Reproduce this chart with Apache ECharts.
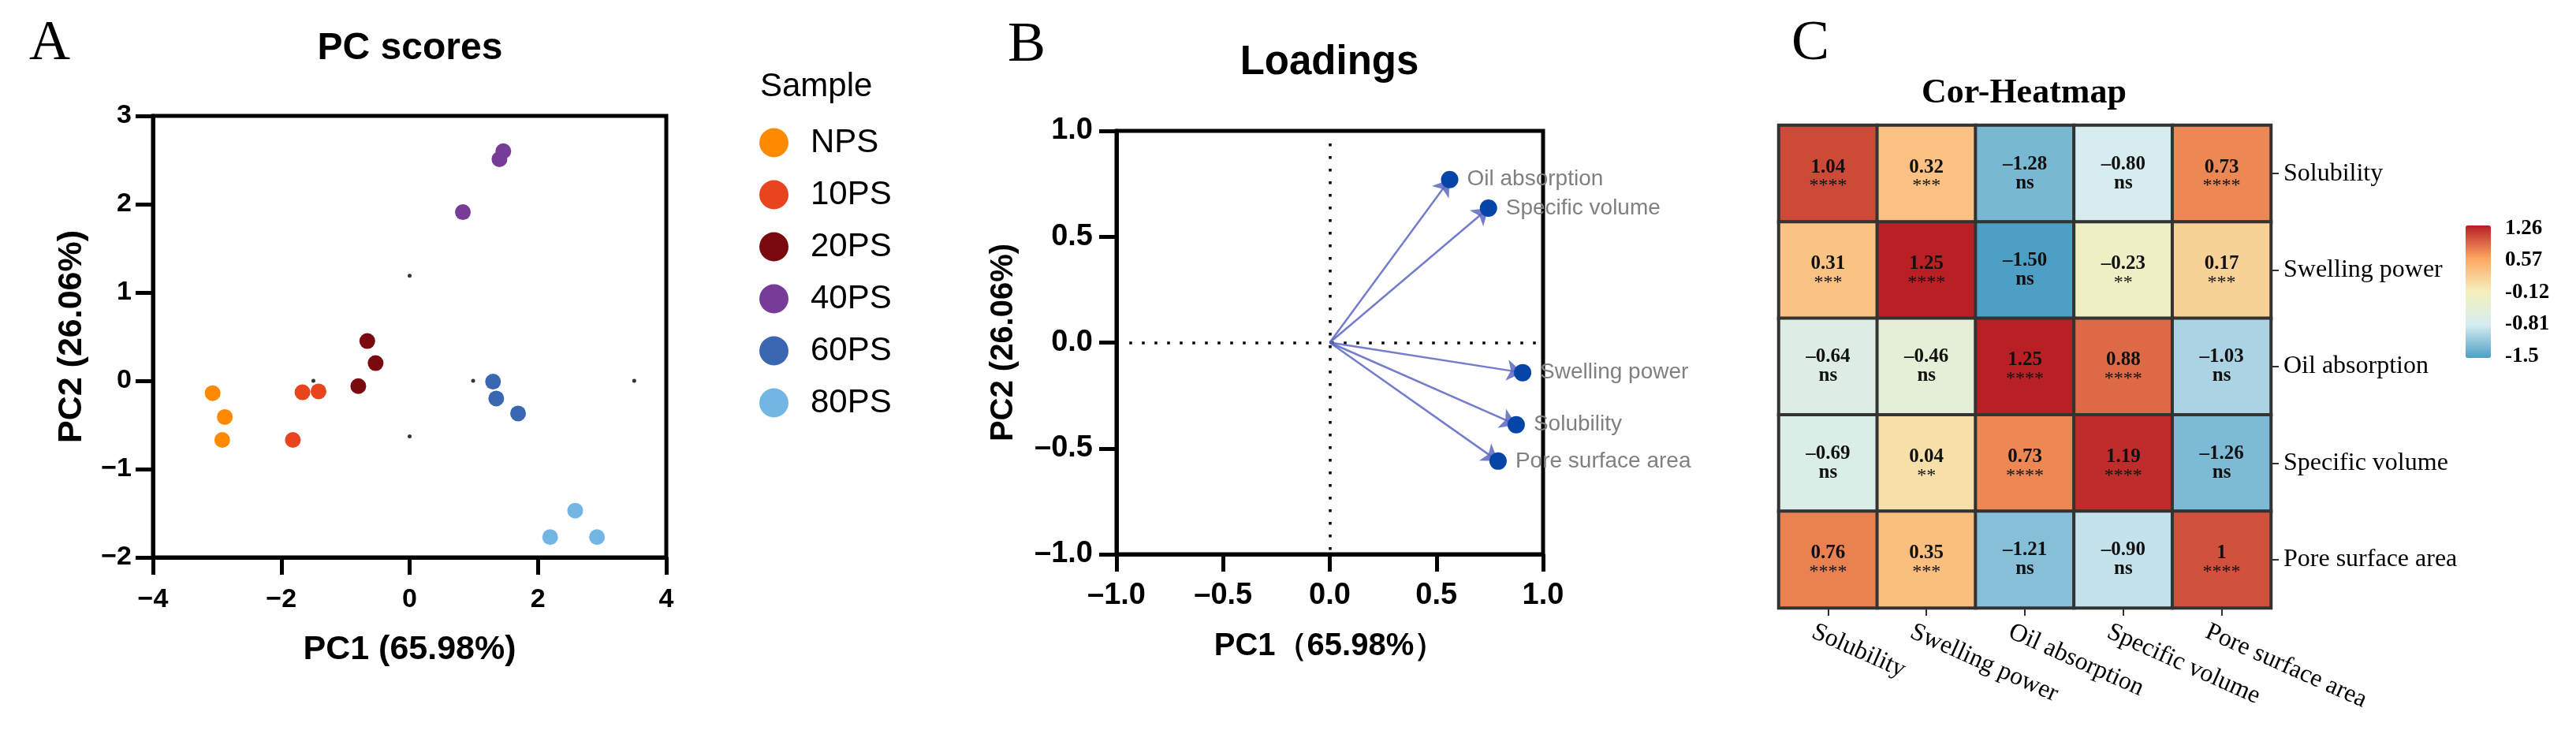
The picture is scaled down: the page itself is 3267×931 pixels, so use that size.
<!DOCTYPE html>
<html><head><meta charset="utf-8">
<script src="https://cdn.jsdelivr.net/npm/echarts@6/dist/echarts.min.js"></script>
<style>html,body{margin:0;padding:0;background:#fff}#c{width:3267px;height:931px}</style>
</head><body><div id="c"></div>
<script>
// ---------- Panel A: PC scores ----------
const sampleNames = ['NPS', '10PS', '20PS', '40PS', '60PS', '80PS'];
const scoresNPS  = [[-3.07, -0.14], [-2.88, -0.41], [-2.92, -0.67]];
const scores10PS = [[-1.67, -0.13], [-1.42, -0.12], [-1.82, -0.67]];
const scores20PS = [[-0.66, 0.45], [-0.53, 0.20], [-0.80, -0.06]];
const scores40PS = [[1.46, 2.60], [1.40, 2.51], [0.83, 1.91]];
const scores60PS = [[1.30, -0.01], [1.35, -0.20], [1.69, -0.37]];
const scores80PS = [[2.58, -1.47], [2.19, -1.77], [2.92, -1.77]];
const centerDots = [[0, 1.19], [0, -0.63], [-1.50, 0], [0.99, 0], [3.50, 0]];

// ---------- Panel B: Loadings ----------
const loadingNames = ['Oil absorption', 'Specific volume', 'Swelling power', 'Solubility', 'Pore surface area'];
const loadPC1 = [0.562, 0.744, 0.904, 0.874, 0.789];
const loadPC2 = [0.770, 0.635, -0.142, -0.388, -0.560];
const refLineH = [[-0.94, 0], [1, 0]];
const refLineV = [[0, 0.94], [0, -1]];

// ---------- Panel C: Cor-Heatmap ----------
const traits = ['Solubility', 'Swelling power', 'Oil absorption', 'Specific volume', 'Pore surface area'];
const corRows = [
  [1.04, 0.32, -1.28, -0.80, 0.73],
  [0.31, 1.25, -1.50, -0.23, 0.17],
  [-0.64, -0.46, 1.25, 0.88, -1.03],
  [-0.69, 0.04, 0.73, 1.19, -1.26],
  [0.76, 0.35, -1.21, -0.90, 1]
];
const sigRows = [
  ['****', '***', 'ns', 'ns', '****'],
  ['***', '****', 'ns', '**', '***'],
  ['ns', 'ns', '****', '****', 'ns'],
  ['ns', '**', '****', '****', 'ns'],
  ['****', '***', 'ns', 'ns', '****']
];
const cbTicks = [-1.5, -0.81, -0.12, 0.57, 1.26];

// ---------- styles ----------
const sampleColors = ['#FF8A00', '#E8441E', '#7A0A10', '#773C98', '#3A67B1', '#73B6E3'];
const SANS = 'Liberation Sans, Arial, sans-serif';
const SERIF = 'Liberation Serif, Times New Roman, serif';
const scoreGroups = [scoresNPS, scores10PS, scores20PS, scores40PS, scores60PS, scores80PS];

const heatData = [];
corRows.forEach((row, yi) => row.forEach((v, xi) => heatData.push([xi, yi, v])));
const fmtCell = v => (Number.isInteger(v) ? String(v) : v.toFixed(2)).replace('-', '\u2013');

function frameAxis(gridIndex, min, max, interval, fs, margin, name, nameGap, nameSize, fmt) {
  return {
    gridIndex, type: 'value', min, max, interval,
    name, nameLocation: 'middle', nameGap,
    nameTextStyle: { fontFamily: SANS, fontSize: nameSize, fontWeight: 'bold', color: '#000' },
    axisLine: { show: true, onZero: false, lineStyle: { color: '#000', width: 5 } },
    axisTick: { show: true, length: 22, lineStyle: { color: '#000', width: 5 } },
    splitLine: { show: false },
    axisLabel: { margin, fontFamily: SANS, fontSize: fs, fontWeight: 'bold', color: '#000',
      showMinLabel: true, showMaxLabel: true, formatter: fmt }
  };
}

const series = [];
scoreGroups.forEach((g, i) => series.push({
  name: sampleNames[i], type: 'scatter', xAxisIndex: 0, yAxisIndex: 0,
  data: g, symbolSize: 20, itemStyle: { color: sampleColors[i], opacity: 1 }, z: 3
}));
series.push({ name: 'centers', type: 'scatter', xAxisIndex: 0, yAxisIndex: 0,
  data: centerDots, symbolSize: 5, itemStyle: { color: '#000' }, z: 2 });

// Panel B series
series.push({ type: 'lines', coordinateSystem: 'cartesian2d', xAxisIndex: 1, yAxisIndex: 1,
  data: [{ coords: refLineH }, { coords: refLineV }],
  symbol: ['none', 'none'],
  lineStyle: { color: '#000', width: 3.5, type: [3.5, 12.5], opacity: 1 }, z: 2 });
series.push({ type: 'lines', coordinateSystem: 'cartesian2d', xAxisIndex: 1, yAxisIndex: 1,
  data: loadPC1.map((x, i) => ({ coords: [[0, 0], [x, loadPC2[i]]] })),
  symbol: ['none', 'arrow'], symbolSize: [14, 20],
  lineStyle: { color: '#5B66C2', width: 2.5, opacity: 0.85 }, z: 3 });
series.push({ type: 'scatter', xAxisIndex: 1, yAxisIndex: 1,
  data: loadPC1.map((x, i) => [x, loadPC2[i], loadingNames[i]]),
  symbolSize: 22, itemStyle: { color: '#0645A8', opacity: 1 }, z: 4,
  label: { show: true, position: 'right', distance: 11, formatter: p => p.data[2],
    fontFamily: SANS, fontSize: 28, color: '#808080' } });

// Panel C heatmap
const heatIdx = series.length;
series.push({ type: 'heatmap', xAxisIndex: 2, yAxisIndex: 2, data: heatData,
  itemStyle: { borderColor: '#333', borderWidth: 4 },
  emphasis: { disabled: true },
  label: { show: true,
    formatter: p => {
      const s = sigRows[p.data[1]][p.data[0]];
      const v = fmtCell(p.data[2]);
      return s === 'ns' ? `{v|${v}}\n{n|${s}}` : `{vp|${v}}\n{sp|${s}}`;
    },
    rich: {
      v: { fontFamily: SERIF, fontWeight: 'bold', fontSize: 25, color: '#111', lineHeight: 24 },
      n: { fontFamily: SERIF, fontWeight: 'bold', fontSize: 25, color: '#111', lineHeight: 24 },
      vp: { fontFamily: SERIF, fontWeight: 'bold', fontSize: 25, color: '#111', lineHeight: 24, padding: [8, 0, 0, 0] },
      sp: { fontFamily: SERIF, fontWeight: 'normal', fontSize: 24, color: '#111', lineHeight: 24, padding: [8, 0, 0, 0] }
    } } });

const option = {
  animation: false,
  backgroundColor: '#fff',
  graphic: [
    { type: 'text', x: 63, y: 56, style: { text: 'A', font: '72px ' + SERIF, fill: '#000', align: 'center', verticalAlign: 'middle' } },
    { type: 'text', x: 1302, y: 58, style: { text: 'B', font: '72px ' + SERIF, fill: '#000', align: 'center', verticalAlign: 'middle' } },
    { type: 'text', x: 2296, y: 56, style: { text: 'C', font: '72px ' + SERIF, fill: '#000', align: 'center', verticalAlign: 'middle' } },
    { type: 'text', x: 520, y: 62, style: { text: 'PC scores', font: 'bold 48px ' + SANS, fill: '#000', align: 'center', verticalAlign: 'middle' } },
    { type: 'text', x: 1686, y: 80, style: { text: 'Loadings', font: 'bold 51px ' + SANS, fill: '#000', align: 'center', verticalAlign: 'middle' } },
    { type: 'text', x: 2567, y: 119, style: { text: 'Cor-Heatmap', font: 'bold 44px ' + SERIF, fill: '#000', align: 'center', verticalAlign: 'middle' } },
    { type: 'text', x: 964, y: 110, style: { text: 'Sample', font: '42px ' + SANS, fill: '#000', align: 'left', verticalAlign: 'middle' } }
  ],
  legend: {
    data: sampleNames, orient: 'vertical', left: 963, top: 160, padding: 0,
    icon: 'circle', itemWidth: 37, itemHeight: 37, itemGap: 24, selectedMode: false,
    textStyle: { fontFamily: SANS, fontSize: 42, color: '#000', lineHeight: 37, padding: [0, 0, 0, 23] }
  },
  grid: [
    { left: 194, top: 147, width: 651, height: 560, show: true, borderColor: '#000', borderWidth: 5, backgroundColor: 'transparent' },
    { left: 1416, top: 166, width: 541, height: 537, show: true, borderColor: '#000', borderWidth: 5, backgroundColor: 'transparent' },
    { left: 2256, top: 159, width: 624, height: 612, show: true, borderColor: '#333', borderWidth: 3, backgroundColor: 'transparent' },
    { left: 3127, top: 290, width: 32, height: 162, show: false },
    { left: 2237, top: 159, width: 624, height: 612, show: false }
  ],
  xAxis: [
    frameAxis(0, -4, 4, 2, 34, 37, 'PC1 (65.98%)', 96, 43, v => String(v).replace('-', '\u2212')),
    frameAxis(1, -1, 1, 0.5, 38, 34, 'PC1\uFF0865.98%\uFF09', 97, 40, v => v.toFixed(1).replace('-', '\u2013')),
    { gridIndex: 2, type: 'category', data: traits, position: 'bottom',
      axisLine: { show: false }, splitLine: { show: false }, splitArea: { show: false },
      axisTick: { show: true, alignWithLabel: true, length: 10, lineStyle: { color: '#333', width: 2 } },
      axisLabel: { show: false } },
    { gridIndex: 3, type: 'value', show: false, min: 0, max: 1 },
    { gridIndex: 4, type: 'category', data: traits, position: 'bottom',
      axisLine: { show: false }, axisTick: { show: false }, splitLine: { show: false },
      axisLabel: { interval: 0, rotate: -24, margin: 29, fontFamily: SERIF, fontSize: 32, color: '#000' } }
  ],
  yAxis: [
    frameAxis(0, -2, 3, 1, 34, 27, 'PC2 (26.06%)', 81, 43, v => String(v).replace('-', '\u2212')),
    frameAxis(1, -1, 1, 0.5, 38, 30, 'PC2 (26.06%)', 123, 40, v => v.toFixed(1).replace('-', '\u2013')),
    { gridIndex: 2, type: 'category', data: traits, inverse: true, position: 'right',
      axisLine: { show: false }, splitLine: { show: false }, splitArea: { show: false },
      axisTick: { show: true, alignWithLabel: true, length: 10, lineStyle: { color: '#333', width: 2 } },
      axisLabel: { interval: 0, margin: 16, fontFamily: SERIF, fontSize: 32, color: '#000' } },
    { gridIndex: 3, type: 'value', min: -1.5, max: 1.26, position: 'right',
      axisLine: { show: false }, axisTick: { show: false }, splitLine: { show: false },
      axisLabel: { customValues: cbTicks, formatter: v => String(v), margin: 18,
        fontFamily: SERIF, fontWeight: 'bold', fontSize: 27, color: '#000' } },
    { gridIndex: 4, type: 'value', show: false, min: 0, max: 1 }
  ],
  visualMap: {
    type: 'continuous', min: -1.5, max: 1.26, seriesIndex: heatIdx,
    calculable: false, left: 3127, top: 286, itemWidth: 32, itemHeight: 168, padding: 0,
    inRange: { color: ['#4E9FC6', '#D6ECF0', '#F4F0BD', '#FDA761', '#B71E25'] }
  },
  series
};
const chart = echarts.init(document.getElementById('c'), null, { renderer: 'canvas' });
chart.setOption(option);
</script></body></html>
